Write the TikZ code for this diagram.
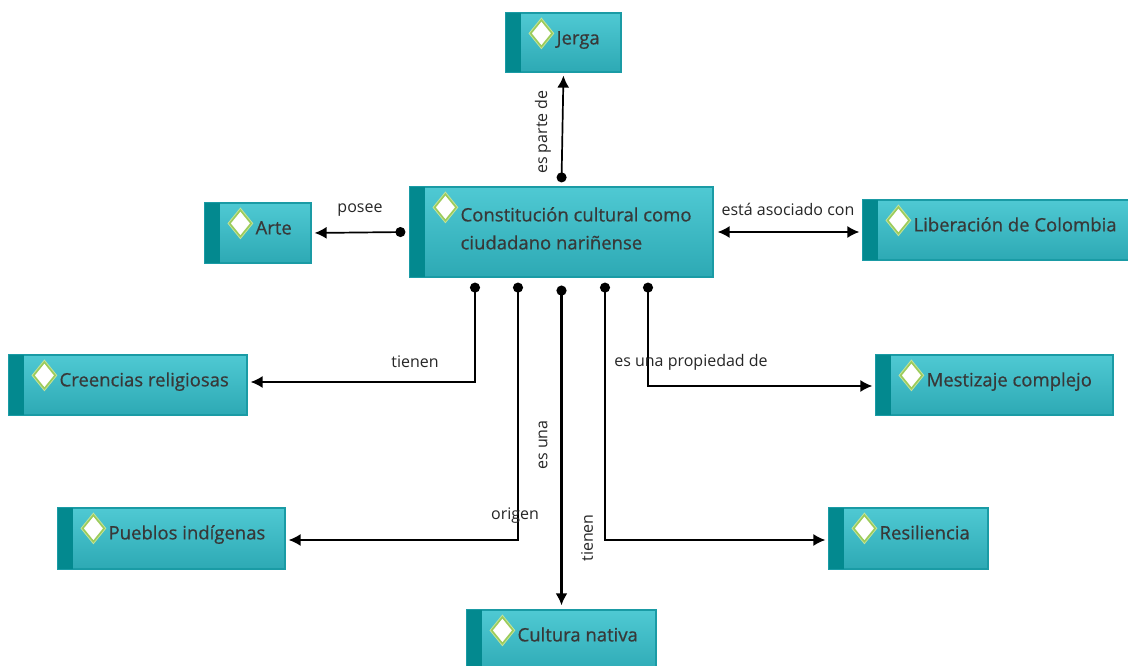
\documentclass[tikz,border=0pt]{standalone}
\usepackage{fontspec}
\setmainfont{Open Sans}
\usetikzlibrary{arrows.meta,calc,fit,shapes.geometric}
\definecolor{boxtop}{HTML}{4FC9D3}
\definecolor{boxbot}{HTML}{2DA9B4}
\definecolor{boxline}{HTML}{1A9BA5}
\definecolor{stripc}{HTML}{03898F}
\definecolor{txtc}{HTML}{383838}
\definecolor{diamline}{HTML}{9CCB5A}
\definecolor{diamglow}{HTML}{C4E39A}
\definecolor{lblc}{HTML}{262626}
\tikzset{
  cbox/.style={rectangle, inner sep=0pt, draw=boxline, line width=1.2pt, top color=boxtop, bottom color=boxbot},
  diam/.style={diamond, draw=diamline, line width=1.6pt, fill=white, inner sep=0pt, minimum width=22pt, minimum height=27pt,
    preaction={draw=diamglow, line width=3.5pt}},
  ctext/.style={anchor=base west, inner sep=0pt, text=txtc, font=\fontsize{18.5}{28}\selectfont\addfontfeature{FakeBold=0.6}, align=left},
  lbl/.style={inner sep=0pt, text=lblc, font=\fontsize{16}{18}\selectfont},
  conn/.style={draw=black, line width=1.7pt, {Circle[length=10pt]}-{Latex[length=12pt,width=12pt]}, shorten >=3pt},
}
\newcommand\cmbox[7][32]{%
  \node[cbox, fit={(#3,#4) (#5,#6)}] (#2) {};
  \fill[stripc] (#2.north west) rectangle ([xshift=16pt]#2.south west);
  \draw[boxline, line width=1.2pt] (#2.north west) rectangle (#2.south east);
  \node[diam] (#2-d) at ([xshift=36pt, yshift=-21pt]#2.north west) {};
  \node[ctext] (#2-t) at ([xshift=51pt, yshift=-#1pt]#2.north west) {#7};
}
\begin{document}
\begin{tikzpicture}[x=1pt,y=-1pt]
\useasboundingbox[fill=white] (0,0) rectangle (1128,666);
\clip (0,0) rectangle (1128,666);
\cmbox[63]{central}{410}{187}{713}{277}{Constitución cultural como\\ciudadano nariñense}
\cmbox{jerga}{506}{13}{621}{72}{Jerga}
\cmbox{arte}{205}{203}{311}{263}{Arte}
\cmbox{lib}{863}{200}{1134}{260}{Liberación de Colombia}
\cmbox{creencias}{9}{355}{247}{415}{Creencias religiosas}
\cmbox{mestizaje}{876}{355}{1113}{415}{Mestizaje complejo}
\cmbox{pueblos}{58}{508}{285}{569}{Pueblos indígenas}
\cmbox{resiliencia}{829}{508}{988}{569}{Resiliencia}
\cmbox{cultura}{467}{610}{656}{675}{Cultura nativa}

% connectors
\draw[conn] ([yshift=4pt]central.north) -- (jerga.south);
\draw[conn] ([xshift=-4pt]central.west) -- (arte.east);
\draw[draw=black, line width=1.7pt, {Latex[length=12pt,width=12pt]}-{Latex[length=12pt,width=12pt]}, shorten <=4pt, shorten >=3pt]
  (central.east) -- (central.east -| lib.west);
\draw[conn] ([xshift=-86.5pt,yshift=-5pt]central.south) |- ([yshift=3pt]creencias.east);
\draw[conn] ([xshift=-43.5pt,yshift=-5pt]central.south) |- ([yshift=-1.5pt]pueblos.east);
\draw[conn, line width=3pt, shorten >=4pt] ([yshift=-8pt]central.south) -- (cultura.north);
\draw[conn] ([xshift=43.5pt,yshift=-5pt]central.south) |- ([yshift=-1.5pt]resiliencia.west);
\draw[conn] ([xshift=86.5pt,yshift=-5pt]central.south) |- ([yshift=-1pt]mestizaje.west);

% labels
\node[lbl, rotate=90] (l-parte) at (543,132) {es parte de};
\node[lbl] (l-posee) at (360,210) {posee};
\node[lbl] (l-asoc) at (788,209) {está asociado con};
\node[lbl] (l-tienen1) at (415,362) {tienen};
\node[lbl] (l-origen) at (515,516) {origen};
\node[lbl, rotate=90] (l-esuna) at (543,445) {es una};
\node[lbl, rotate=90] (l-tienen2) at (587,538) {tienen};
\node[lbl] (l-prop) at (691,362) {es una propiedad de};
\end{tikzpicture}
\end{document}
